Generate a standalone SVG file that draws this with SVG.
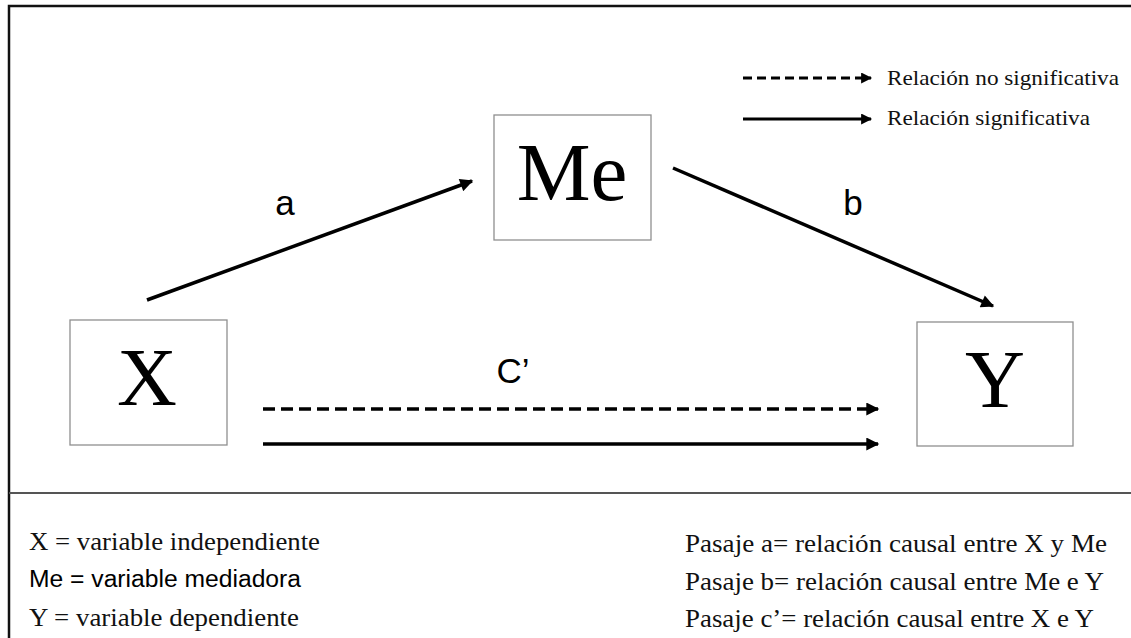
<svg xmlns="http://www.w3.org/2000/svg" width="1131" height="638" viewBox="0 0 1131 638">
<defs>
<style>
.box{fill:#fff;stroke:#8f8f8f;stroke-width:1.3}
.big{font-family:"Liberation Serif","Times New Roman",serif;font-size:83px;fill:#000;text-anchor:middle}
.lbl{font-family:"Liberation Sans",Arial,sans-serif;font-size:35px;fill:#000;text-anchor:middle}
.ser{font-family:"Liberation Serif","Times New Roman",serif;fill:#111}
.san{font-family:"Liberation Sans",Arial,sans-serif;fill:#000}
.arr{stroke:#000;stroke-width:3.5;fill:none;marker-end:url(#ah)}
.dash{stroke-dasharray:12 6}
.larr{stroke:#000;stroke-width:3.2;fill:none;marker-end:url(#ahs)}
</style>
<marker id="ah" viewBox="0 0 10 10" refX="9" refY="5" markerWidth="17" markerHeight="13" markerUnits="userSpaceOnUse" orient="auto"><path d="M0,0 L10,5 L0,10 z" fill="#000"/></marker>
<marker id="ahs" viewBox="0 0 10 10" refX="9" refY="5" markerWidth="13" markerHeight="11" markerUnits="userSpaceOnUse" orient="auto"><path d="M0,0 L10,5 L0,10 z" fill="#000"/></marker>
</defs>
<rect width="1131" height="638" fill="#fff"/>
<g id="frame">
<path d="M9,638 V6 H1131" fill="none" stroke="#111" stroke-width="2.5"/>
<line x1="9" y1="493" x2="1131" y2="493" stroke="#555" stroke-width="2"/>
</g>
<g id="node-me"><rect class="box" x="494" y="115" width="157" height="125"/><text class="big" x="572" y="200">Me</text></g>
<g id="node-x"><rect class="box" x="70" y="320" width="157" height="125"/><text class="big" x="147" y="405">X</text></g>
<g id="node-y"><rect class="box" x="917" y="322" width="156" height="124"/><text class="big" x="995" y="407">Y</text></g>
<g id="connectors">
<line class="arr" x1="147" y1="300" x2="472" y2="181"/>
<line class="arr" x1="673" y1="168" x2="993" y2="306"/>
<line class="arr dash" x1="263" y1="409" x2="878" y2="409"/>
<line class="arr" x1="263" y1="444" x2="878" y2="444"/>
<text class="lbl" x="285" y="215">a</text>
<text class="lbl" x="853" y="215">b</text>
<text class="lbl" x="513" y="383" font-size="30">C’</text>
</g>
<g id="legend-lines">
<line class="larr dash" x1="743" y1="78" x2="871" y2="78" style="stroke-dasharray:9 5"/>
<line class="larr" x1="743" y1="119" x2="871" y2="119"/>
<text class="ser" x="887" y="85" font-size="21" textLength="232" lengthAdjust="spacingAndGlyphs">Relación no significativa</text>
<text class="ser" x="887" y="125" font-size="21" textLength="203" lengthAdjust="spacingAndGlyphs">Relación significativa</text>
</g>
<g id="legend-vars">
<text class="ser" x="29" y="550" font-size="25" textLength="291" lengthAdjust="spacingAndGlyphs">X = variable independiente</text>
<text class="san" x="29" y="587" font-size="23" textLength="272" lengthAdjust="spacingAndGlyphs">Me = variable mediadora</text>
<text class="ser" x="29" y="626" font-size="25" textLength="270" lengthAdjust="spacingAndGlyphs">Y = variable dependiente</text>
</g>
<g id="legend-paths">
<text class="ser" x="685" y="552" font-size="25" textLength="422" lengthAdjust="spacingAndGlyphs">Pasaje a= relación causal entre X y Me</text>
<text class="ser" x="685" y="590" font-size="25" textLength="419" lengthAdjust="spacingAndGlyphs">Pasaje b= relación causal entre Me e Y</text>
<text class="ser" x="685" y="627" font-size="25" textLength="409" lengthAdjust="spacingAndGlyphs">Pasaje c’= relación causal entre X e Y</text>
</g>
</svg>
